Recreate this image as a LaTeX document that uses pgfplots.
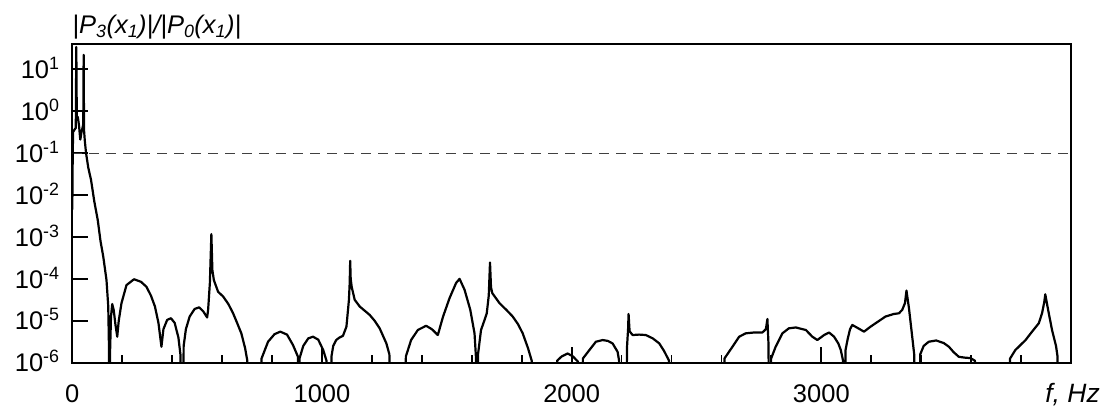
\documentclass[border=0pt]{standalone}
\usepackage{pgfplots}
\usepackage{pgfplotstable}
\pgfplotsset{compat=1.18}
\usepackage{fontspec}
\setmainfont{Liberation Sans}
\pgfplotstableread{
f r
0 4.47e-3
1.5 6.31e-2
3 0.316
8 0.355
14 0.398
16 33.9
18 0.708
22 0.724
27 0.447
32 0.209
37 0.316
42 0.427
44 0.501
45.5 21.9
47 0.355
50 0.200
55 0.100
64 0.0447
75 0.0229
88 7.08e-3
102 2.51e-3
113 7.94e-4
124 3.39e-4
137 9.33e-5
144 2.19e-5
146.5 3.16e-6
148 1e-8
149 1e-8
151 1.58e-6
155 1.26e-5
160 2.51e-5
166 1.78e-5
173 7.94e-6
180 4.17e-6
186 1e-5
197 2.63e-5
217 7.08e-5
247 9.77e-5
275 8.51e-5
297 6.46e-5
315 3.98e-5
331 2.19e-5
345 8.91e-6
357 2.4e-6
365 6.31e-6
380 1.05e-5
395 1.15e-5
410 8.91e-6
425 3.98e-6
433 1.58e-6
437 1e-8
443 1e-8
446 2.51e-6
455 6.31e-6
470 1.26e-5
490 1.91e-5
508 2.09e-5
525 1.66e-5
540 1.2e-5
544 1.82e-5
551 7.94e-5
557 1.17e-3
561 1.62e-4
567 9.33e-5
584 4.9e-5
604 3.8e-5
625 2.51e-5
644 1.51e-5
660 8.91e-6
677 5.01e-6
692 2.24e-6
701 1.12e-6
705 1e-8
755 1e-8
758 1.26e-6
784 3.16e-6
810 4.79e-6
833 5.5e-6
860 4.68e-6
884 2.63e-6
904 1.38e-6
908 1e-8
910 1.26e-6
925 2.51e-6
945 3.8e-6
964 4.17e-6
985 3.55e-6
1005 2.0e-6
1018 1.12e-6
1021 1e-8
1035 1e-8
1038 1.41e-6
1045 2.51e-6
1057 3.47e-6
1070 3.98e-6
1084 4.37e-6
1098 7.24e-6
1108 3.16e-5
1111 7.94e-5
1113 2.69e-4
1115 1e-4
1119 6.46e-5
1131 3.16e-5
1151 2.19e-5
1171 1.74e-5
1191 1.38e-5
1211 1e-5
1231 6.61e-6
1258 2.88e-6
1270 1.58e-6
1276 1e-8
1332 1e-8
1336 1.41e-6
1357 3.47e-6
1384 6.03e-6
1417 7.59e-6
1440 6.31e-6
1464 4.57e-6
1485 1.26e-5
1511 3.47e-5
1537 7.94e-5
1551 1e-4
1571 5.5e-5
1594 1.82e-5
1611 5.01e-6
1617 1.26e-6
1620 1e-8
1622 1e-8
1625 1.58e-6
1637 6.03e-6
1650 1e-5
1660 1.51e-5
1668 3.98e-5
1673 2.45e-4
1677 6.31e-5
1682 4.57e-5
1711 2.63e-5
1740 1.78e-5
1764 1.26e-5
1785 8.32e-6
1804 5.01e-6
1825 2.24e-6
1840 1.12e-6
1845 1e-8
1938 1e-8
1942 1.12e-6
1960 1.41e-6
1984 1.66e-6
2005 1.41e-6
2025 1.07e-6
2031 1e-8
2041 1e-8
2045 1.26e-6
2071 2.0e-6
2097 3.16e-6
2124 3.47e-6
2145 3.31e-6
2164 2.88e-6
2184 1.82e-6
2190 1.12e-6
2193 1e-8
2217 1e-8
2222 2.51e-6
2226 6.31e-6
2228 1.45e-5
2232 5.62e-6
2244 4.57e-6
2270 4.68e-6
2297 4.57e-6
2325 3.8e-6
2351 2.88e-6
2370 1.91e-6
2390 1.12e-6
2397 1e-8
2607 1e-8
2612 1.26e-6
2644 2.4e-6
2671 4.17e-6
2697 5.01e-6
2730 5.25e-6
2764 5.25e-6
2778 6.31e-6
2784 1.1e-5
2788 3.16e-6
2793 1e-8
2795 1e-8
2799 1.26e-6
2817 2.4e-6
2844 5.01e-6
2870 6.61e-6
2898 6.92e-6
2938 6.03e-6
2964 4.17e-6
2984 3.47e-6
3011 4.57e-6
3031 5.25e-6
3051 4.17e-6
3068 2.88e-6
3078 2.0e-6
3087 1.12e-6
3091 1e-8
3093 1e-8
3097 2.0e-6
3105 3.55e-6
3115 6.31e-6
3124 7.94e-6
3145 6.76e-6
3171 5.5e-6
3195 7.08e-6
3217 8.71e-6
3257 1.26e-5
3290 1.45e-5
3311 1.51e-5
3324 1.82e-5
3335 2.63e-5
3341 5.25e-5
3351 2.0e-5
3364 4.17e-6
3372 1.58e-6
3376 1e-8
3392 1e-8
3396 1.58e-6
3410 2.51e-6
3430 3.16e-6
3460 3.39e-6
3490 2.95e-6
3511 2.4e-6
3530 1.78e-6
3551 1.38e-6
3575 1.32e-6
3597 1.29e-6
3615 1.12e-6
3630 1e-8
3751 1e-8
3756 1.26e-6
3777 2.0e-6
3818 3.47e-6
3844 5.5e-6
3871 8.71e-6
3884 1.51e-5
3893 2.82e-5
3897 4.27e-5
3904 2.51e-5
3911 1.51e-5
3924 6.03e-6
3940 2.51e-6
3946 1.41e-6
3950 1e-8
4000 1e-8
}\curvedata
\begin{document}
\fontsize{25.5}{30}\selectfont
\begin{tikzpicture}
\begin{axis}[
  scale only axis, width=998.7pt, height=318.7pt,
  ymode=log, xmin=0, xmax=4000, ymin=1e-6, ymax=39.8,
  xtick={0,1000,2000,3000},
  xticklabels={0,1000,2000,3000},
  minor xtick={200,400,600,800,1200,1400,1600,1800,2200,2400,2600,2800,3200,3400,3600,3800},
  ytick={1e-6,1e-5,1e-4,1e-3,1e-2,1e-1,1,10},
  yticklabels={10\textsuperscript{-6},10\textsuperscript{-5},10\textsuperscript{-4},10\textsuperscript{-3},10\textsuperscript{-2},10\textsuperscript{-1},10\textsuperscript{0},10\textsuperscript{1}},
  yminorticks=false,
  tick align=inside, xtick pos=left, ytick pos=left,
  major tick length=15.5pt, minor tick length=8pt,
  tick style={line width=1.8pt, black},
  axis line style={line width=2.4pt},
  /pgf/number format/assume math mode=true,
  tick label style={font=\fontsize{25.5}{30}\selectfont},
  xticklabel style={yshift=-13.5pt},
  yticklabel style={anchor=base east, yshift=-9.2pt, xshift=-4pt},
]
\addplot[black!75, line width=1pt, dash pattern=on 10pt off 7pt] coordinates {(0,0.1) (4000,0.1)};
\addplot[black, line width=2.2pt, line join=round, mark=none] table[x=f, y=r] {\curvedata};
\end{axis}
\node[anchor=base west, inner sep=0pt, font=\fontsize{25.5}{30}\selectfont\itshape] at ([yshift=10.7pt]current axis.north west)
  {|P\textsubscript{3}(x\textsubscript{1})|/|P\textsubscript{0}(x\textsubscript{1})|};
\node[anchor=base east, inner sep=0pt, font=\fontsize{26.5}{30}\selectfont\itshape] at ([shift={(29pt,-40.3pt)}]current axis.south east)
  {f, Hz};
\pgfresetboundingbox
\path ([shift={(-72.3pt,-49.3pt)}]current axis.south west) rectangle ([shift={(38pt,44pt)}]current axis.north east);
\end{tikzpicture}
\end{document}
